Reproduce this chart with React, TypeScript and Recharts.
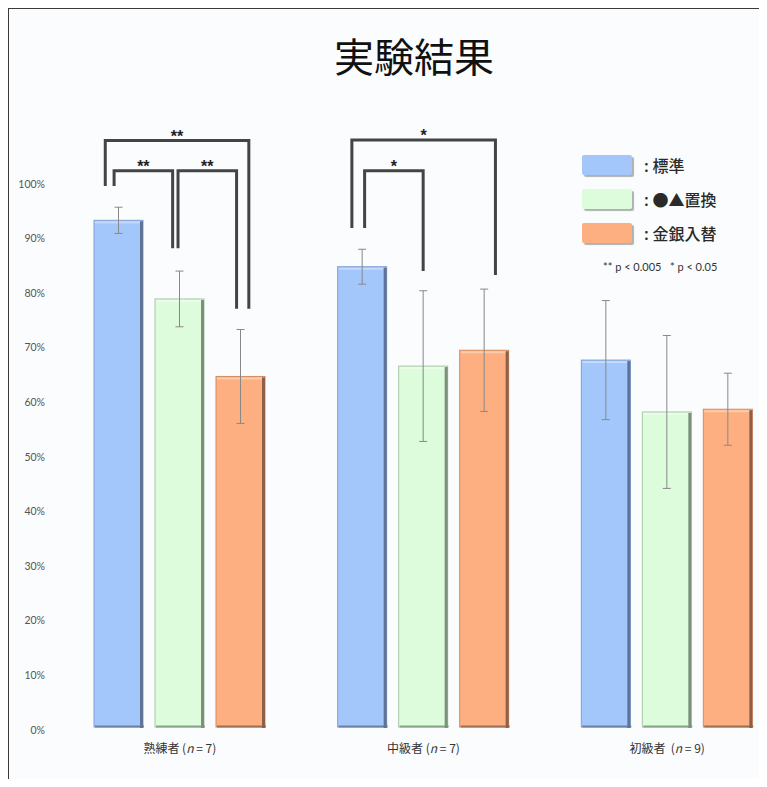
import { BarChart, Bar, XAxis, YAxis, ErrorBar } from 'recharts';

// groups and sample sizes
const groups = ['熟練者', '中級者', '初級者'];
const sampleSizes = [7, 7, 9];

// mean accuracy (%) per condition
const standard = [92.8, 84.3, 67.2];
const standardErr = [2.4, 3.2, 10.9];
const replaced = [78.4, 66.1, 57.7];
const replacedErr = [5.1, 13.8, 14.0];
const swapped = [64.2, 69.0, 58.2];
const swappedErr = [8.6, 11.2, 6.6];

const yTicks = [0, 10, 20, 30, 40, 50, 60, 70, 80, 90, 100];

// significance brackets: group, from series, to series, levels in %
const brackets = [
  { group: 0, from: 0, to: 2, fromFrac: 0.23, toFrac: 0.67, level: 107.4, fromEnd: 99.1, toEnd: 76.6, mark: '**' },
  { group: 0, from: 0, to: 1, fromFrac: 0.41, toFrac: 0.36, level: 101.9, fromEnd: 99.1, toEnd: 87.7, mark: '**' },
  { group: 0, from: 1, to: 2, fromFrac: 0.47, toFrac: 0.42, level: 101.9, fromEnd: 87.7, toEnd: 76.6, mark: '**' },
  { group: 1, from: 0, to: 2, fromFrac: 0.29, toFrac: 0.73, level: 107.5, fromEnd: 91.4, toEnd: 82.8, mark: '*' },
  { group: 1, from: 0, to: 1, fromFrac: 0.55, toFrac: 0.5, level: 101.9, fromEnd: 91.4, toEnd: 83.5, mark: '*' },
];

const SERIES = [
  { key: 'standard', name: '標準', fill: '#a4c7fb', edge: '#7f9fd4', shadow: '#5f7396' },
  { key: 'replaced', name: '●▲置換', fill: '#ddfcdc', edge: '#a8c8a6', shadow: '#7d907b' },
  { key: 'swapped', name: '金銀入替', fill: '#fdaf81', edge: '#d38c63', shadow: '#8e6047' },
];

const BAR_GAP = 12;
const BAR_SIZE = 49;

const data = groups.map((g, i) => ({
  group: g,
  n: sampleSizes[i],
  standard: standard[i],
  standardErr: standardErr[i],
  replaced: replaced[i],
  replacedErr: replacedErr[i],
  swapped: swapped[i],
  swappedErr: swappedErr[i],
}));

const makeShape = (si: number) => (props: any) => {
  const { x, y, width, height, index, payload } = props;
  const s = SERIES[si];
  const value = payload[s.key];
  const unit = height / value;
  const zero = y + height;
  const yOf = (v: number) => zero - v * unit;
  const own = brackets.filter((b) => b.group === index && b.from === si);
  return (
    <g>
      <rect x={x} y={y} width={width} height={height} fill={s.fill} stroke={s.edge} strokeWidth={1} />
      <rect x={x + 1} y={y + 1} width={width - 4} height={2} fill="#ffffff" opacity={0.35} />
      <rect x={x + width - 3} y={y + 1} width={3} height={height} fill={s.shadow} />
      <rect x={x + 1} y={y + height - 1.5} width={width} height={2} fill={s.shadow} opacity={0.8} />
      {own.map((b, k) => {
        const xL = x + b.fromFrac * width;
        const xR = x + (b.to - b.from) * (width + BAR_GAP) + b.toFrac * width;
        const yl = yOf(b.level);
        return (
          <g key={k}>
            <path
              d={`M${xL},${yOf(b.fromEnd)}V${yl}H${xR}V${yOf(b.toEnd)}`}
              fill="none"
              stroke="#444"
              strokeWidth={3}
            />
            <text x={(xL + xR) / 2} y={yl + 1} textAnchor="middle" fontSize={16} fontWeight="bold" fill="#222" fontFamily="'Liberation Sans', sans-serif">
              {b.mark}
            </text>
          </g>
        );
      })}
    </g>
  );
};

const XTick = (props: any) => {
  const { x, y, index } = props;
  return (
    <text x={x} y={y + 18} textAnchor="middle" fontSize={12} fill="#333" fontFamily="'Noto Sans CJK JP', sans-serif" style={{ whiteSpace: 'pre' }}>
      {groups[index]}
      {index === 2 ? '\u00a0\u00a0(' : ' ('}
      <tspan fontStyle="italic">n</tspan>
      {`\u00a0=\u00a0${sampleSizes[index]})`}
    </text>
  );
};

const YTick = (props: any) => {
  const { x, y, payload } = props;
  return (
    <text x={x} y={y + 6.5} textAnchor="end" fontSize={10.5} fill="#555" fontFamily="Lato, 'Open Sans', sans-serif">
      {`${payload.value}%`}
    </text>
  );
};

export default function App() {
  return (
    <div
      style={{
        position: 'relative',
        width: 758,
        height: 778,
        overflow: 'hidden',
        margin: '-1px 0 -8px -1px',
        borderTop: '2px solid #3a3a3a',
        borderLeft: '2px solid #3a3a3a',
        background: '#fafcfe',
      }}
    >
      <div
        style={{
          position: 'absolute',
          left: 205,
          top: 20,
          width: 400,
          textAlign: 'center',
          fontSize: 40,
          lineHeight: '52px',
          color: '#111',
          fontFamily: "'Noto Sans CJK JP', sans-serif",
        }}
      >
        実験結果
      </div>

      <BarChart
        width={780}
        height={778}
        data={data}
        margin={{ top: 172, right: 0, bottom: 30, left: 0 }}
        barGap={BAR_GAP}
        barSize={BAR_SIZE}
      >
        <XAxis dataKey="group" axisLine={false} tickLine={false} height={30} tick={<XTick />} interval={0} />
        <YAxis
          domain={[0, 100]}
          ticks={yTicks}
          width={49}
          axisLine={false}
          tickLine={false}
          tickSize={6}
          tickMargin={7}
          tick={<YTick />}
        />
        {SERIES.map((s, si) => (
          <Bar key={s.key} dataKey={s.key} name={s.name} fill={s.fill} shape={makeShape(si)} isAnimationActive={false}>
            <ErrorBar dataKey={`${s.key}Err`} width={4} stroke="#888" strokeWidth={1} direction="y" />
          </Bar>
        ))}
      </BarChart>

      <div style={{ position: 'absolute', left: 573, top: 146, fontFamily: "'Noto Sans CJK JP', sans-serif" }}>
        {SERIES.map((s, i) => (
          <div key={s.key} style={{ position: 'absolute', left: 0, top: i * 34, width: 200, height: 21 }}>
            <div
              style={{
                position: 'absolute',
                left: 0,
                top: 0,
                width: 50,
                height: 20,
                background: s.fill,
                borderRadius: 2,
                boxShadow: `2px 2px 1px rgba(0,0,0,0.3)`,
              }}
            />
            <div style={{ position: 'absolute', left: 62, top: -3, fontSize: 16, lineHeight: '26px', color: '#2a2a2a', whiteSpace: 'nowrap', fontWeight: 500 }}>
              :&nbsp;{s.name}
            </div>
          </div>
        ))}
        <div
          style={{
            position: 'absolute',
            left: 21,
            top: 104,
            fontSize: 11,
            lineHeight: '16px',
            color: '#333',
            whiteSpace: 'pre',
            fontFamily: "Lato, 'Open Sans', sans-serif",
          }}
        >
          {'** p < 0.005   * p < 0.05'}
        </div>
      </div>
    </div>
  );
}
